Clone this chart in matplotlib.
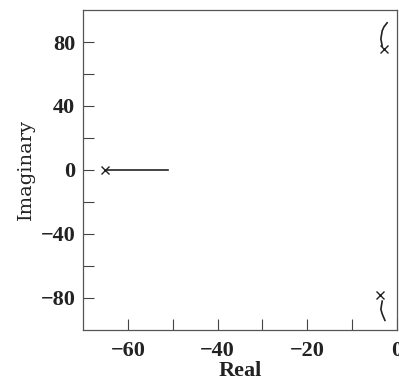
import matplotlib.pyplot as plt
import numpy as np

# open-loop poles
pole_re = [-65, -2.9, -3.8]
pole_im = [0, 75.5, -78]

# root locus branches
real_branch_re = [-65, -51]
real_branch_im = [0, 0]
upper_re = [-3.3, -3.6, -3.3, -2.9, -2.2]
upper_im = [77.5, 82, 87, 89.5, 92]
lower_re = [-3.3, -3.6, -3.3, -2.7]
lower_im = [-82, -87, -90, -94]

xticks = [-60, -40, -20, 0]
yticks = [80, 40, 0, -40, -80]

plt.rcParams['font.family'] = ['Liberation Serif', 'DejaVu Serif']

fig = plt.figure(figsize=(3.99, 3.85), dpi=100)
ax = fig.add_axes([0.208, 0.143, 0.787, 0.831])

lc = '#222222'
ax.plot(real_branch_re, real_branch_im, color=lc, lw=1.2)
ax.plot(upper_re, upper_im, color=lc, lw=1.2)
ax.plot(lower_re, lower_im, color=lc, lw=1.2)
ax.plot(pole_re, pole_im, 'x', color=lc, ms=6, mew=1.0)

ax.set_xlim(-70, 0)
ax.set_ylim(-100, 100)
ax.set_xticks(xticks)
ax.set_xticklabels(['\u221260', '\u221240', '\u221220', '0'])
ax.set_yticks(yticks)
ax.set_yticklabels(['80', '40', '0', '\u221240', '\u221280'])
ax.set_xticks([-50, -30, -10], minor=True)
ax.set_yticks([60, 20, -20, -60], minor=True)
ax.tick_params(which='both', direction='in', top=False, right=False,
               length=8, width=0.8, colors='#444444', labelcolor='#222222')
ax.tick_params(axis='y', labelsize=16, pad=5.5)
ax.tick_params(axis='x', labelsize=16, pad=8)
for lab in ax.get_xticklabels() + ax.get_yticklabels():
    lab.set_fontweight('bold')
for s in ax.spines.values():
    s.set_color('#555555')
    s.set_linewidth(0.9)

ax.set_xlabel('Real', fontsize=16, fontweight='bold', color='#222222', labelpad=0)
ax.set_ylabel('Imaginary', fontsize=14, family='DejaVu Serif', color='#222222', labelpad=4)

fig.savefig('out.png', dpi=100)
